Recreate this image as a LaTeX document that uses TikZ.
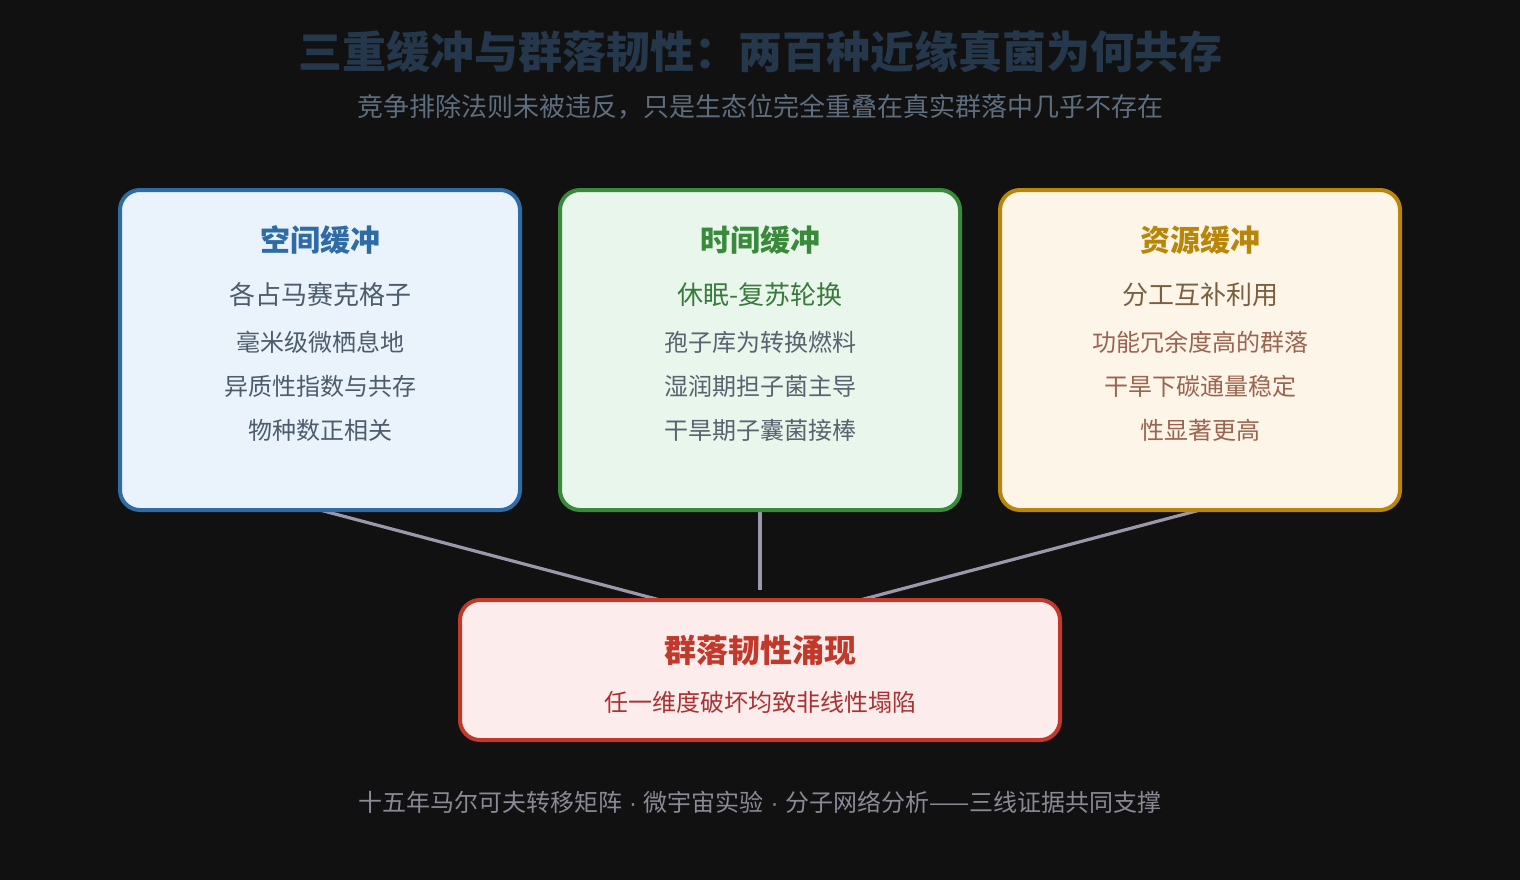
\documentclass[tikz,border=0pt]{standalone}
\usepackage{fontspec}
\setmainfont{Noto Sans CJK SC}
\newfontfamily\latinfont{Liberation Sans}
\definecolor{bg}{HTML}{111111}
\definecolor{ttl}{HTML}{25374A}
\definecolor{sub}{HTML}{5E6E7E}
\definecolor{edge}{HTML}{9A98AA}
\definecolor{bAfill}{HTML}{EAF3FB}
\definecolor{bAdraw}{HTML}{2F6CA5}
\definecolor{bAtext}{HTML}{4C5C6C}
\definecolor{bBfill}{HTML}{E8F6EC}
\definecolor{bBdraw}{HTML}{3A8A3C}
\definecolor{bBfirst}{HTML}{3A7A3C}
\definecolor{bBtext}{HTML}{5A6270}
\definecolor{bCfill}{HTML}{FDF5E7}
\definecolor{bCdraw}{HTML}{B8860B}
\definecolor{bCfirst}{HTML}{7A6040}
\definecolor{bCtext}{HTML}{9A6450}
\definecolor{bDfill}{HTML}{FCECEC}
\definecolor{bDdraw}{HTML}{C0392B}
\definecolor{bDtext}{HTML}{A83232}
\definecolor{foot}{HTML}{8A8A96}
\tikzset{
  panel/.style={draw, line width=4pt, rounded corners=20pt, inner sep=0pt},
  link/.style={draw=edge, line width=3.2pt},
  txt/.style={inner sep=0pt, anchor=center},
}
\newcommand{\sepdot}{{\latinfont\ ·\ }}
\begin{document}
\begin{tikzpicture}[x=1pt, y=-1pt]
\fill[bg] (0,0) rectangle (1520,880);
\useasboundingbox (0,0) rectangle (1520,880);

% titles
\node[txt, text=ttl, font=\fontsize{44}{48}\selectfont\bfseries] (title) at (760,52) {三重缓冲与群落韧性：两百种近缘真菌为何共存};
\node[txt, text=sub, font=\fontsize{26}{30}\selectfont] (subtitle) at (760,107) {竞争排除法则未被违反，只是生态位完全重叠在真实群落中几乎不存在};

% connectors (behind)
\coordinate (endA) at (660,600);
\coordinate (endB) at (760,590);
\coordinate (endC) at (860,600);
\coordinate (startA) at (320,510);
\coordinate (startB) at (760,510);
\coordinate (startC) at (1200,510);
\draw[link] (startA) -- (endA);
\draw[link] (startB) -- (endB);
\draw[link] (startC) -- (endC);

% boxes
\node[panel, fill=bAfill, draw=bAdraw, minimum width=400pt, minimum height=320pt] (boxA) at (320,350) {};
\node[panel, fill=bBfill, draw=bBdraw, minimum width=400pt, minimum height=320pt] (boxB) at (760,350) {};
\node[panel, fill=bCfill, draw=bCdraw, minimum width=400pt, minimum height=320pt] (boxC) at (1200,350) {};
\node[panel, fill=bDfill, draw=bDdraw, minimum width=600pt, minimum height=140pt] (boxD) at (760,670) {};

% box A text
\node[txt, text=bAdraw, font=\fontsize{30}{34}\selectfont\bfseries] (aT) at (320,240) {空间缓冲};
\node[txt, text=bAtext, font=\fontsize{26}{30}\selectfont] (a1) at (320,295) {各占马赛克格子};
\node[txt, text=bAtext, font=\fontsize{24}{28}\selectfont] (a2) at (320,342) {毫米级微栖息地};
\node[txt, text=bAtext, font=\fontsize{24}{28}\selectfont] (a3) at (320,386) {异质性指数与共存};
\node[txt, text=bAtext, font=\fontsize{24}{28}\selectfont] (a4) at (320,430) {物种数正相关};

% box B text
\node[txt, text=bBdraw, font=\fontsize{30}{34}\selectfont\bfseries] (bT) at (760,240) {时间缓冲};
\node[txt, text=bBfirst, font=\fontsize{26}{30}\selectfont] (b1) at (760,295) {休眠-复苏轮换};
\node[txt, text=bBtext, font=\fontsize{24}{28}\selectfont] (b2) at (760,342) {孢子库为转换燃料};
\node[txt, text=bBtext, font=\fontsize{24}{28}\selectfont] (b3) at (760,386) {湿润期担子菌主导};
\node[txt, text=bBtext, font=\fontsize{24}{28}\selectfont] (b4) at (760,430) {干旱期子囊菌接棒};

% box C text
\node[txt, text=bCdraw, font=\fontsize{30}{34}\selectfont\bfseries] (cT) at (1200,240) {资源缓冲};
\node[txt, text=bCfirst, font=\fontsize{26}{30}\selectfont] (c1) at (1200,295) {分工互补利用};
\node[txt, text=bCtext, font=\fontsize{24}{28}\selectfont] (c2) at (1200,342) {功能冗余度高的群落};
\node[txt, text=bCtext, font=\fontsize{24}{28}\selectfont] (c3) at (1200,386) {干旱下碳通量稳定};
\node[txt, text=bCtext, font=\fontsize{24}{28}\selectfont] (c4) at (1200,430) {性显著更高};

% box D text
\node[txt, text=bDdraw, font=\fontsize{32}{36}\selectfont\bfseries] (dT) at (760,650) {群落韧性涌现};
\node[txt, text=bDtext, font=\fontsize{24}{28}\selectfont] (d1) at (760,702) {任一维度破坏均致非线性塌陷};

% footer
\node[txt, text=foot, font=\fontsize{24}{28}\selectfont] (footer) at (760,802) {十五年马尔可夫转移矩阵\sepdot 微宇宙实验\sepdot 分子网络分析——三线证据共同支撑};
\end{tikzpicture}
\end{document}
